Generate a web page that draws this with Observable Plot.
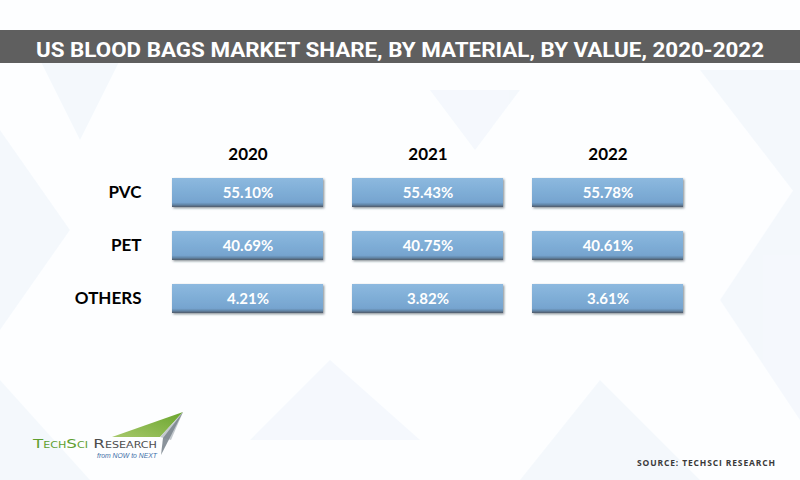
<!DOCTYPE html>
<html>
<head>
<meta charset="utf-8">
<script src="https://cdn.jsdelivr.net/npm/d3@7"></script>
<script src="https://cdn.jsdelivr.net/npm/@observablehq/plot@0.6"></script>
<style>
  html, body { margin: 0; padding: 0; background: #ffffff; }
  #page { position: relative; width: 800px; height: 480px; overflow: hidden; background: #fdfeff; }
  #bg, #chart, #banner, #logo, #source { position: absolute; }
  #bg { left: 0; top: 0; }
  #chart { left: 0; top: 0; }
  #banner { left: 0; top: 30px; width: 800px; height: 33px; background: #5f5f5f; }
  #logo { left: 0; top: 400px; }
  #source { left: 600px; top: 450px; }
</style>
</head>
<body>
<div id="page">
  <svg id="bg" width="800" height="480">
    <g fill="#e8f1f9" opacity="0.4">
      <polygon points="0,130 70,230 0,330"/>
      <polygon points="40,60 120,60 80,140"/>
      <polygon points="700,70 800,70 800,200"/>
      <polygon points="720,300 800,180 800,420"/>
      <polygon points="600,380 700,480 520,480"/>
      <polygon points="0,380 90,480 0,480"/>
      <polygon points="330,360 420,440 250,440"/>
      <polygon points="430,90 520,90 475,150"/>
    </g>
  </svg>
  <div id="chart"></div>
  <div id="banner">
    <svg width="800" height="33">
      <text id="title" x="400" y="27" text-anchor="middle" fill="#ffffff"
        font-family="Roboto, 'DejaVu Sans Condensed', sans-serif" font-weight="700" font-size="21"
        textLength="728" lengthAdjust="spacingAndGlyphs">US BLOOD BAGS MARKET SHARE, BY MATERIAL, BY VALUE, 2020-2022</text>
    </svg>
  </div>
  <svg id="logo" width="220" height="80">
    <defs>
      <linearGradient id="lgGreen" x1="0" y1="1" x2="1" y2="0">
        <stop offset="0" stop-color="#a6c86a"/>
        <stop offset="1" stop-color="#6aa52e"/>
      </linearGradient>
    </defs>
    <polygon points="112,37 183,12 160,37" fill="url(#lgGreen)"/>
    <polygon points="160,37 183,12 171,40" fill="#c3c9ce"/>
    <polygon points="163,38 183,12 161,55" fill="#7d8790" opacity="0.9"/>
    <text x="33" y="48" font-family="'DejaVu Sans', sans-serif" font-size="12" font-variant="small-caps"
      textLength="124" lengthAdjust="spacingAndGlyphs"><tspan fill="#5f9f2f">TechSci</tspan><tspan fill="#4d4d4d"> Research</tspan></text>
    <text x="97" y="58" font-family="'Liberation Sans', sans-serif" font-size="7" font-style="italic" fill="#3d6fa8"
      textLength="60" lengthAdjust="spacingAndGlyphs">from NOW to NEXT</text>
  </svg>
  <svg id="source" width="200" height="30">
    <text x="37" y="16" font-family="'Open Sans', sans-serif" font-weight="700" font-size="8.5" fill="#3a3a3a"
      textLength="138" lengthAdjust="spacing">SOURCE: TECHSCI RESEARCH</text>
  </svg>
</div>
<script>
// ---- data ----
const years = ["2020", "2021", "2022"];
const materials = ["PVC", "PET", "OTHERS"];
const pvcShare = [55.10, 55.43, 55.78];
const petShare = [40.69, 40.75, 40.61];
const othersShare = [4.21, 3.82, 3.61];

const seriesByMaterial = { PVC: pvcShare, PET: petShare, OTHERS: othersShare };
const table = materials.flatMap(m => years.map((y, i) => ({ material: m, year: y, value: seriesByMaterial[m][i] })));
const fmt = d3.format(".2f");

const defs = () => {
  const ns = "http://www.w3.org/2000/svg";
  const g = document.createElementNS(ns, "defs");
  g.innerHTML = `
    <linearGradient id="boxGrad" x1="0" y1="0" x2="0" y2="1">
      <stop offset="0" stop-color="#8db9df"/>
      <stop offset="0.5" stop-color="#7eadd6"/>
      <stop offset="0.84" stop-color="#76a4cf"/>
      <stop offset="0.92" stop-color="#6286a8"/>
      <stop offset="1" stop-color="#4e5b68"/>
    </linearGradient>
    <filter id="boxShadow" x="-5%" y="-20%" width="115%" height="150%">
      <feDropShadow dx="1.2" dy="1.2" stdDeviation="0.8" flood-color="#2c3540" flood-opacity="0.55"/>
    </filter>`;
  return g;
};

const chart = Plot.plot({
  width: 800,
  height: 480,
  marginTop: 165,
  marginLeft: 144,
  marginRight: 100,
  marginBottom: 160,
  style: { background: "transparent", fontFamily: "Lato, 'Open Sans', sans-serif", fontSize: "17px", fontWeight: 700, color: "#000" },
  x: { type: "band", domain: years, range: [171, 685], paddingInner: 0.16, paddingOuter: 0, axis: "top", tickSize: 0, tickPadding: 6, label: null },
  y: { type: "band", domain: materials, range: [178, 313], paddingInner: 0.453, paddingOuter: 0, axis: "left", tickSize: 0, tickPadding: 3, label: null },
  marks: [
    defs,
    Plot.cell(table, { x: "year", y: "material", fill: "url(#boxGrad)", inset: 0 }),
    Plot.text(table, { x: "year", y: "material", text: d => fmt(d.value) + "%", fill: "white", fontSize: 15, fontWeight: 700 })
  ]
});
chart.querySelectorAll("rect").forEach(r => { if (r.getAttribute("fill") === "url(#boxGrad)" || (r.parentNode && r.parentNode.getAttribute("fill") === "url(#boxGrad)")) r.setAttribute("filter", "url(#boxShadow)"); });
document.getElementById("chart").appendChild(chart);
</script>
</body>
</html>
